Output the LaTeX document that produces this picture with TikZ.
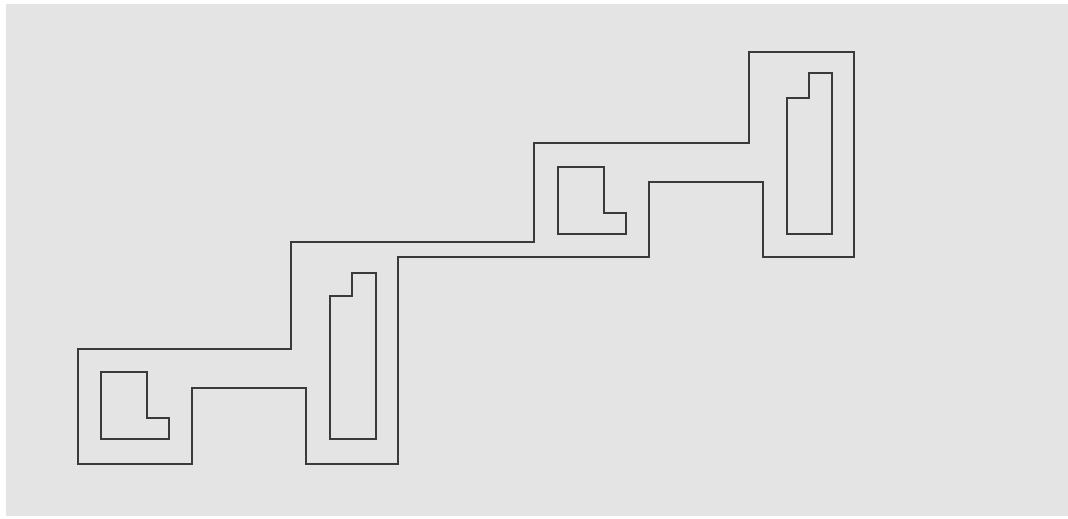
\documentclass[tikz,border=0pt]{standalone}
\usetikzlibrary{positioning}
\definecolor{panelgray}{HTML}{E4E4E4}
\definecolor{wallgray}{HTML}{3A3A3A}
\begin{document}
\begin{tikzpicture}[x=1pt,y=-1pt,
  outline/.style={draw=wallgray, line width=1.7pt, line join=miter}
  ]
  \useasboundingbox (0,0) rectangle (1068,519);
  % Background panel
  \fill[white] (0,0) rectangle (1068,519);
  \fill[panelgray] (6,4) rectangle (1068,516);

  % Outer contour
  \draw[outline] (78,349) -- (291,349) -- (291,242) -- (534,242) -- (534,143)
    -- (749,143) -- (749,52) -- (854,52) -- (854,257) -- (763,257) -- (763,182)
    -- (649,182) -- (649,257) -- (398,257) -- (398,464) -- (306,464) -- (306,388)
    -- (192,388) -- (192,464) -- (78,464) -- cycle;

  % L-shaped pieces
  \foreach \x/\y in {101/372, 558/167}
  \draw[outline] (\x,\y) -- ++(46,0) -- ++(0,46) -- ++(22,0) -- ++(0,21)
    -- ++(-68,0) -- cycle;

  % Tall pieces
  \draw[outline] (330,439) -- (330,296) -- (352,296) -- (352,273) -- (376,273)
    -- (376,439) -- cycle;
  \draw[outline] (787,234) -- (787,98) -- (809,98) -- (809,73) -- (832,73)
    -- (832,234) -- cycle;
\end{tikzpicture}
\end{document}
